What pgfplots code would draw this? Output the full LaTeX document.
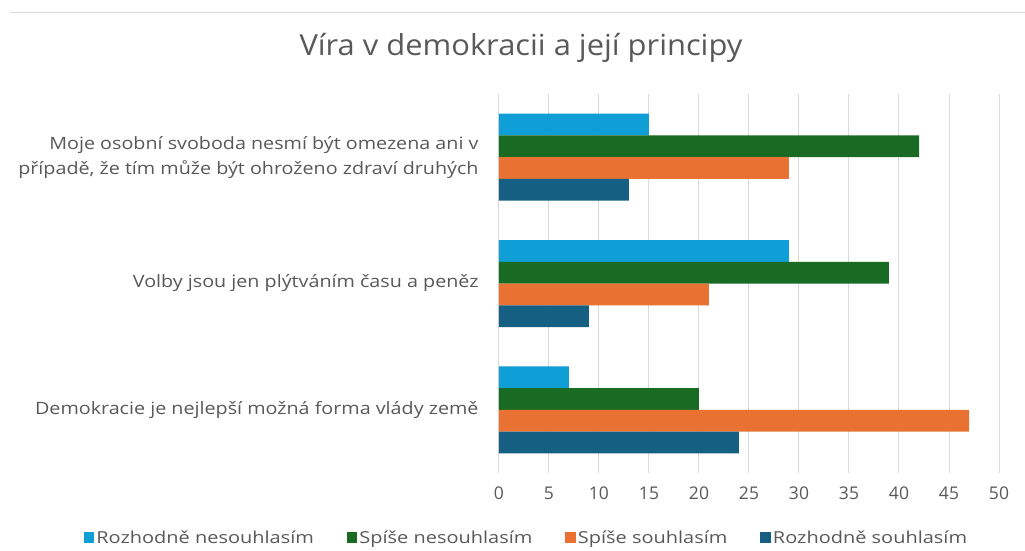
\documentclass[border=0pt]{standalone}
\usepackage{pgfplots}
\pgfplotsset{compat=1.18}
\usepackage{fontspec}
\setmainfont{Open Sans}
\newfontfamily\tickfont{Open Sans}
\newfontfamily\lblfont{Open Sans}[FakeStretch=1.16]
\newfontfamily\legfont{Open Sans}[FakeStretch=1.21]
\newfontfamily\titlefont{Open Sans}[FakeStretch=1.065]
\definecolor{lblue}{HTML}{0F9ED5}
\definecolor{dgreen}{HTML}{196B24}
\definecolor{orng}{HTML}{E97132}
\definecolor{dblue}{HTML}{156082}
\definecolor{txt}{HTML}{595959}
\definecolor{gridc}{HTML}{D9D9D9}
\pgfplotsset{
  sqlegend/.style={legend image code/.code={\fill[##1] (0pt,-5pt) rectangle (10.5pt,5.5pt);}}
}
\begin{document}
\begin{tikzpicture}[x=1pt,y=1pt]
\useasboundingbox (-499,-77) rectangle (526,473);
\fill[white] (-499,-77) rectangle (526,473);
\draw[gridc, line width=0.8pt] (-489,461) -- (526,461);
\node[text=txt, font=\titlefont\fontsize{29}{34}\selectfont] at (22,425) {Víra v demokracii a její principy};
\begin{axis}[
  at={(0,0)}, anchor=south west,
  scale only axis, width=500pt, height=379pt,
  xmin=0, xmax=50, ymin=-0.5, ymax=2.5,
  xtick={0,5,...,50},
  ytick={0,1,2},
  yticklabels={Demokracie je nejlepší možná forma vlády země, Volby jsou jen plýtváním času a peněz, {Moje osobní svoboda nesmí být omezena ani v\\případě, že tím může být ohroženo zdraví druhých}},
  xmajorgrids, grid style={gridc, line width=1pt},
  axis line style={draw=none}, major tick style={draw=none},
  /pgf/number format/assume math mode=true,
  xticklabel style={text=txt, font=\tickfont\fontsize{17.5}{20}\selectfont, anchor=center, yshift=-20pt},
  yticklabel style={text=txt, font=\lblfont\fontsize{17}{25}\selectfont, align=right, anchor=east, inner sep=0pt, xshift=-16pt},
  xbar, bar width=21.75pt,
  legend columns=4,
  legend style={at={(0.055,-0.1705)}, anchor=center, draw=none, fill=none, font=\legfont\fontsize{16.5}{20}\selectfont, text=txt,
    /tikz/every even column/.append style={column sep=31pt}},
  legend cell align=left,
  sqlegend,
]
\addplot[draw=none, fill=lblue, bar shift=32.625pt] coordinates {(7,0) (29,1) (15,2)};
\addplot[draw=none, fill=dgreen, bar shift=10.875pt] coordinates {(20,0) (39,1) (42,2)};
\addplot[draw=none, fill=orng, bar shift=-10.875pt] coordinates {(47,0) (21,1) (29,2)};
\addplot[draw=none, fill=dblue, bar shift=-32.625pt] coordinates {(24,0) (9,1) (13,2)};
\legend{Rozhodně nesouhlasím, Spíše nesouhlasím, Spíše souhlasím, Rozhodně souhlasím}
\end{axis}
\end{tikzpicture}
\end{document}
